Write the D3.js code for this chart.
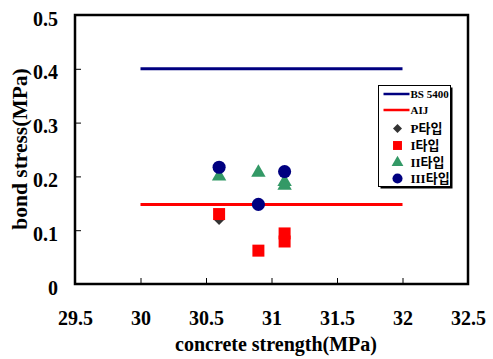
<!DOCTYPE html>
<html>
<head>
<meta charset="utf-8">
<script src="https://cdn.jsdelivr.net/npm/d3@7"></script>
<style>
  body { margin: 0; background: #fff; }
</style>
</head>
<body>
<script>
// reference lines
var bsLine = [[30, 0.4], [32, 0.4]];
var aijLine = [[30, 0.148], [32, 0.148]];

// test results: [concrete strength, bond stress]
var pType = [[30.6, 0.12]];
var iType = [[30.6, 0.13], [30.9, 0.062], [31.1, 0.094], [31.1, 0.079]];
var iiType = [[30.6, 0.2], [30.9, 0.207], [31.1, 0.19], [31.1, 0.183]];
var iiiType = [[30.6, 0.217], [30.9, 0.148], [31.1, 0.209]];

var xTicks = [29.5, 30, 30.5, 31, 31.5, 32, 32.5];
var yTicks = [0, 0.1, 0.2, 0.3, 0.4, 0.5];

var legendNames = ["BS 5400", "AIJ", "P타입", "I타입", "II타입", "III타입"];

var serif = "'Liberation Serif', 'Times New Roman', serif";
var korean = "'Liberation Serif', 'Noto Sans CJK KR', serif";

var margin = {top: 15, right: 25, bottom: 75, left: 75};
var width = 493 - margin.left - margin.right,
    height = 359 - margin.top - margin.bottom;

var svg = d3.select("body").append("svg")
  .attr("width", 493)
  .attr("height", 359);

var g = svg.append("g")
  .attr("transform", "translate(" + margin.left + "," + margin.top + ")");

var x = d3.scaleLinear().domain([29.5, 32.5]).range([0, width]);
var y = d3.scaleLinear().domain([0, 0.5]).range([height, 0]);

// ticks pointing inward
var xAxis = g.append("g")
  .attr("transform", "translate(0," + height + ")")
  .call(d3.axisBottom(x).tickValues(xTicks).tickSize(-6).tickPadding(27)
    .tickFormat(function(d) { return d; }));
xAxis.select(".domain").remove();
xAxis.selectAll("line").attr("stroke", "#000");
xAxis.selectAll("text")
  .attr("font-family", serif).attr("font-weight", "bold")
  .attr("font-size", 20).attr("fill", "#000");

var yAxis = g.append("g")
  .call(d3.axisLeft(y).tickValues(yTicks).tickSize(-6).tickPadding(17)
    .tickFormat(function(d) { return d === 0 ? "0" : d.toFixed(1); }));
yAxis.select(".domain").remove();
yAxis.selectAll("line").attr("stroke", "#000");
yAxis.selectAll("text")
  .attr("dy", "0.5em")
  .attr("font-family", serif).attr("font-weight", "bold")
  .attr("font-size", 20).attr("fill", "#000");

// frame
g.append("rect")
  .attr("width", width)
  .attr("height", height)
  .attr("fill", "none")
  .attr("stroke", "#000")
  .attr("stroke-width", 2.5);

var line = d3.line()
  .x(function(d) { return x(d[0]); })
  .y(function(d) { return y(d[1]); });

g.append("path").datum(bsLine)
  .attr("d", line).attr("stroke", "#000080").attr("stroke-width", 3).attr("fill", "none");
g.append("path").datum(aijLine)
  .attr("d", line).attr("stroke", "#ff0000").attr("stroke-width", 3).attr("fill", "none");

// square rotated into a diamond
var diamond = {
  draw: function(context, size) {
    var r = Math.sqrt(size / 2);
    context.moveTo(0, -r);
    context.lineTo(r, 0);
    context.lineTo(0, r);
    context.lineTo(-r, 0);
    context.closePath();
  }
};

function drawPoints(data, shape, size, colour) {
  g.selectAll(null)
    .data(data)
    .enter()
      .append("path")
        .attr("transform", function(d) {
          return "translate(" + x(d[0]) + "," + y(d[1]) + ")";
        })
        .attr("d", d3.symbol().type(shape).size(size))
        .attr("fill", colour);
}

drawPoints(pType, diamond, 60, "#333333");
drawPoints(iType, d3.symbolSquare, 144, "#ff0000");
drawPoints(iiType, d3.symbolTriangle, 90, "#339966");
drawPoints(iiiType, d3.symbolCircle, 135, "#000080");

// legend with a drop shadow
var legend = svg.append("g").attr("transform", "translate(378.5,85.5)");
legend.append("rect")
  .attr("x", 2).attr("y", 2)
  .attr("width", 72).attr("height", 101)
  .attr("fill", "#000");
legend.append("rect")
  .attr("width", 72).attr("height", 101)
  .attr("fill", "#fff").attr("stroke", "#000").attr("stroke-width", 1);

var legendY = [8.5, 24.5, 43, 60, 77, 93];
var legendItems = [
  {line: "#000080"},
  {line: "#ff0000"},
  {shape: diamond, size: 40, colour: "#333333"},
  {shape: d3.symbolSquare, size: 80, colour: "#ff0000"},
  {shape: d3.symbolTriangle, size: 60, colour: "#339966"},
  {shape: d3.symbolCircle, size: 80, colour: "#000080"}
];

legendItems.forEach(function(item, i) {
  var ly = legendY[i];
  if (item.line) {
    legend.append("line")
      .attr("x1", 5).attr("x2", 31)
      .attr("y1", ly).attr("y2", ly)
      .attr("stroke", item.line).attr("stroke-width", 2.5);
  } else {
    legend.append("path")
      .attr("transform", "translate(19," + ly + ")")
      .attr("d", d3.symbol().type(item.shape).size(item.size))
      .attr("fill", item.colour);
  }
  legend.append("text")
    .attr("x", 32)
    .attr("y", ly + (item.line ? 4 : 4.5))
    .attr("font-family", korean)
    .attr("font-weight", "bold")
    .attr("font-size", item.line ? 11 : 13)
    .text(legendNames[i]);
});

// axis titles
svg.append("text")
  .attr("x", 276)
  .attr("y", 351)
  .attr("text-anchor", "middle")
  .attr("font-family", serif).attr("font-weight", "bold")
  .attr("font-size", 20)
  .text("concrete strength(MPa)");

svg.append("text")
  .attr("transform", "translate(27,149) rotate(-90)")
  .attr("text-anchor", "middle")
  .attr("font-family", serif).attr("font-weight", "bold")
  .attr("font-size", 21.5)
  .text("bond stress(MPa)");
</script>
</body>
</html>
